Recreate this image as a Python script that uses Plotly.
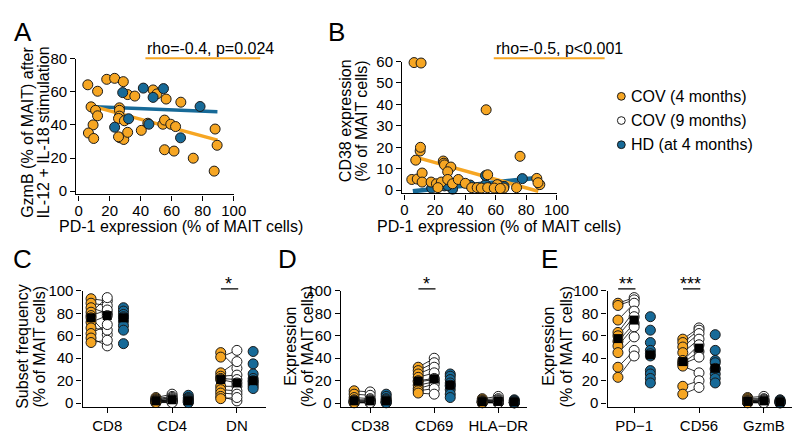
import plotly.graph_objects as go
import numpy as np

W, H = 800, 434
ORANGE = "#F6A623"
BLUE = "#176A98"
EDGE = "#1a1a1a"
FONT = "Liberation Sans, Arial, sans-serif"

# ---------------- Panel A: GzmB vs PD-1 ----------------
a_cov_x = [5.9, 12.2, 18.1, 23.2, 28.8, 31.6, 36.2, 48.0, 50.5, 56.4, 65.9, 8.0, 10.9, 12.2,
           9.3, 6.3, 9.7, 26.3, 26.3, 26.3, 25.7, 29.5, 26.7, 29.1, 31.6, 40.4, 44.6, 54.3,
           55.4, 59.4, 62.5, 55.4, 61.5, 73.9, 88.0, 89.3, 87.4, 25.7]
a_cov_y = [64.2, 60.3, 67.5, 68.1, 66.1, 58.3, 57.4, 61.1, 58.7, 55.6, 53.7, 50.9, 48.8, 45.5,
           40.0, 35.1, 31.8, 50.3, 48.8, 45.3, 43.9, 42.5, 32.2, 31.2, 35.5, 36.7, 41.0, 40.4,
           42.9, 40.4, 39.0, 25.0, 24.2, 19.9, 37.5, 27.7, 12.1, 32.8]
a_hd_x = [28.4, 41.7, 54.7, 48.0, 32.2, 23.2, 45.3, 65.7, 78.3]
a_hd_y = [59.5, 62.2, 61.9, 56.6, 43.7, 38.6, 40.4, 32.2, 51.1]
a_fit_x = [10.5, 89.5]
a_cov_fit = [50.9, 30.8]
a_hd_fit = [50.9, 48.0]
a_stat = "rho=-0.4, p=0.024"

# ---------------- Panel B: CD38 vs PD-1 ----------------
b_cov_x = [6.3, 10.9, 53.7, 10.3, 10.5, 7.4, 25.5, 25.9, 26.3, 30.5, 28.4, 76.0, 4.8, 8.4,
           11.6, 11.6, 17.5, 21.0, 24.2, 28.4, 31.6, 35.4, 40.0, 44.2, 47.8, 50.5, 54.7,
           54.7, 61.0, 65.3, 73.7, 87.0, 89.0, 87.8, 22.0, 59.0, 63.0]
b_cov_y = [59.5, 59.3, 37.5, 18.3, 20.0, 14.0, 13.6, 12.6, 11.8, 10.8, 8.6, 15.8, 5.0, 5.2,
           8.0, 3.8, 3.8, 3.0, 3.8, 5.0, 3.0, 5.0, 3.2, 1.2, 1.2, 1.0, 7.2, 1.2, 2.6, 1.0,
           1.2, 5.5, 2.6, 3.5, 1.2, 1.0, 0.8]
b_hd_x = [17.9, 26.3, 31.6, 43.2, 53.3, 53.3, 62.0, 65.5, 77.5, 28.4]
b_hd_y = [1.0, 2.0, 0.5, 2.4, 2.6, 6.8, 2.3, 1.8, 5.4, 2.2]
b_fit_x = [5.5, 88.0]
b_cov_fit = [15.8, -0.5]
b_hd_fit = [-0.5, 5.8]
b_stat = "rho=-0.5, p<0.001"

# ---------------- Panels C-E: paired strip plots ----------------
c_categories = ["CD8", "CD4", "DN"]
c_cov4 = [[93, 89, 85, 81, 78, 76, 72, 67, 62, 58, 54],
          [5, 4, 3, 3, 2, 2, 2, 1, 1, 1, 0.5],
          [45, 41, 27, 24, 22, 21, 15, 12, 9, 6, 4]]
c_cov9 = [[91, 87, 80, 94, 83, 61, 78, 65, 70, 51, 56],
          [8, 6, 5, 4, 3, 3, 2, 2, 1, 1, 0.5],
          [31, 47, 37, 25, 21, 18, 15, 11, 8, 2, 5]]
c_hd = [[85, 82, 79, 77, 76, 73, 69, 65, 53],
        [7, 5, 4, 3, 2, 2, 1, 1, 0.5],
        [46, 35, 26, 22, 20, 19, 17, 15, 13]]
c_sig = ["", "", "*"]
c_title = ["Subset frequency", "(% of MAIT cells)"]

d_categories = ["CD38", "CD69", "HLA\u2212DR"]
d_cov4 = [[11, 8, 5, 3, 2, 2, 1, 1, 0.5, 0.3],
          [32, 29, 26, 23, 20, 19, 16, 13, 11, 9],
          [4, 3, 2, 2, 1.5, 1, 1, 0.5, 0.5, 0.3]]
d_cov9 = [[10, 7, 4, 3, 2, 2, 1, 1, 0.5, 0.3],
          [40, 36, 32, 27, 22, 21, 19, 17, 13, 8],
          [6, 4, 3, 2, 2, 1, 1, 0.5, 0.5, 0.3]]
d_hd = [[8, 6, 4, 3, 2, 1, 1, 0.5, 0.3],
        [26, 24, 21, 18, 16, 15, 12, 8, 5],
        [3, 2, 2, 1, 1, 0.5, 0.5, 0.3, 0.2]]
d_sig = ["", "*", ""]
d_title = ["Expression", "(% of MAIT cells)"]

e_categories = ["PD\u22121", "CD56", "GzmB"]
e_cov4 = [[89, 87, 74, 63, 60, 55, 51, 45, 32, 23],
          [57, 54, 50, 45, 38, 36, 35, 33, 15, 8],
          [5, 4, 3, 2, 2, 1, 1, 1, 0.5, 0.3]]
e_cov9 = [[94, 92, 89, 82, 77, 71, 68, 59, 47, 42],
          [67, 65, 62, 57, 52, 46, 41, 27, 20, 14],
          [6, 4, 3, 3, 2, 2, 1, 1, 0.5, 0.3]]
e_hd = [[77, 65, 54, 47, 44, 42, 29, 26, 22, 18],
        [61, 47, 38, 36, 31, 30, 26, 22, 18],
        [3, 2, 2, 1, 1, 1, 0.5, 0.3, 0.2]]
e_sig = ["**", "***", ""]
e_title = ["Expression", "(% of MAIT cells)"]

legend_labels = ["COV (4 months)", "COV (9 months)", "HD (at 4 months)"]
legend_colors = [ORANGE, "white", BLUE]


def px(x):
    return x / W


def py(y):
    return 1 - y / H


fig = go.Figure()

marker_orange = dict(size=10, color=ORANGE, line=dict(color=EDGE, width=1))
marker_blue = dict(size=10, color=BLUE, line=dict(color=EDGE, width=1))
marker_white = dict(size=10, color="white", line=dict(color=EDGE, width=1))

# Panel A
fig.add_trace(go.Scatter(x=a_fit_x, y=a_hd_fit, mode="lines", line=dict(color=BLUE, width=3.5),
                         xaxis="x", yaxis="y", showlegend=False))
fig.add_trace(go.Scatter(x=a_fit_x, y=a_cov_fit, mode="lines", line=dict(color=ORANGE, width=3.5),
                         xaxis="x", yaxis="y", showlegend=False))
fig.add_trace(go.Scatter(x=a_cov_x, y=a_cov_y, mode="markers", marker=marker_orange,
                         xaxis="x", yaxis="y", showlegend=False, cliponaxis=False))
fig.add_trace(go.Scatter(x=a_hd_x, y=a_hd_y, mode="markers", marker=marker_blue,
                         xaxis="x", yaxis="y", showlegend=False, cliponaxis=False))

# Panel B
fig.add_trace(go.Scatter(x=b_fit_x, y=b_hd_fit, mode="lines", line=dict(color=BLUE, width=4.5),
                         xaxis="x2", yaxis="y2", showlegend=False))
fig.add_trace(go.Scatter(x=b_fit_x, y=b_cov_fit, mode="lines", line=dict(color=ORANGE, width=3.5),
                         xaxis="x2", yaxis="y2", showlegend=False))
fig.add_trace(go.Scatter(x=b_hd_x, y=b_hd_y, mode="markers", marker=marker_blue,
                         xaxis="x2", yaxis="y2", showlegend=False, cliponaxis=False))
fig.add_trace(go.Scatter(x=b_cov_x, y=b_cov_y, mode="markers", marker=marker_orange,
                         xaxis="x2", yaxis="y2", showlegend=False, cliponaxis=False))

OFF = 0.25


def add_strip(cov4, cov9, hd, xa, ya):
    lx, ly = [], []
    for i in range(len(cov4)):
        for a, b in zip(cov4[i], cov9[i]):
            lx += [i - OFF, i, None]
            ly += [a, b, None]
    fig.add_trace(go.Scatter(x=lx, y=ly, mode="lines", line=dict(color="black", width=0.8),
                             xaxis=xa, yaxis=ya, showlegend=False, cliponaxis=False))
    for grp, dx, mk in ((cov4, -OFF, marker_orange), (cov9, 0, marker_white), (hd, OFF, marker_blue)):
        xs, ys = [], []
        for i, vals in enumerate(grp):
            xs += [i + dx] * len(vals)
            ys += list(vals)
        fig.add_trace(go.Scatter(x=xs, y=ys, mode="markers", marker=mk,
                                 xaxis=xa, yaxis=ya, showlegend=False, cliponaxis=False))
    mx, my = [], []
    for grp, dx in ((cov4, -OFF), (cov9, 0), (hd, OFF)):
        for i, vals in enumerate(grp):
            mx.append(i + dx)
            my.append(float(np.median(vals)))
    fig.add_trace(go.Scatter(x=mx, y=my, mode="markers",
                             marker=dict(symbol="square", size=9, color="black"),
                             xaxis=xa, yaxis=ya, showlegend=False, cliponaxis=False))


add_strip(c_cov4, c_cov9, c_hd, "x3", "y3")
add_strip(d_cov4, d_cov9, d_hd, "x4", "y4")
add_strip(e_cov4, e_cov9, e_hd, "x5", "y5")

axis_common = dict(showline=True, linecolor="black", linewidth=1.3, ticks="outside", ticklen=5,
                   tickwidth=1.2, tickcolor="black", showgrid=False, zeroline=False,
                   tickfont=dict(family=FONT, size=15, color="black"))

layout = dict(
    width=W, height=H, margin=dict(l=0, r=0, t=0, b=0),
    paper_bgcolor="white", plot_bgcolor="white", showlegend=False,
    font=dict(family=FONT, color="black"),
    xaxis=dict(domain=[px(67.6), px(228)], range=[-1.5, 100], tickvals=[0, 20, 40, 60, 80, 100],
               anchor="y", ticklabelstandoff=-3, **axis_common),
    yaxis=dict(domain=[py(183.4), py(43)], range=[-2, 80], tickvals=[0, 20, 40, 60, 80],
               anchor="x", **axis_common),
    xaxis2=dict(domain=[px(399.7), px(557)], range=[-1.5, 100], tickvals=[0, 20, 40, 60, 80, 100],
                anchor="y2", ticklabelstandoff=-3, **axis_common),
    yaxis2=dict(domain=[py(182.3), py(46)], range=[-1.5, 60], tickvals=[0, 10, 20, 30, 40, 50, 60],
                anchor="x2", **axis_common),
)
strip_y = dict(domain=[py(402.5), py(283)], range=[-3, 100], tickvals=[0, 20, 40, 60, 80, 100],
               **axis_common)
for k, (x0, x1, r0), cats in zip((3, 4, 5), ((74, 261, -0.38), (337, 527, -0.46), (609, 798, -0.41)),
                                 (c_categories, d_categories, e_categories)):
    layout[f"xaxis{k}"] = dict(domain=[px(x0), px(x1)], range=[r0, 2.45], tickvals=[0, 1, 2],
                               ticktext=cats, anchor=f"y{k}", **axis_common)
    layout[f"yaxis{k}"] = dict(anchor=f"x{k}", **strip_y)
fig.update_layout(**layout)

ann = []
shapes = []


def text(x, y, s, size=16, angle=0, xanchor="center", yanchor="middle"):
    ann.append(dict(x=px(x), y=py(y), xref="paper", yref="paper", text=s, showarrow=False,
                    textangle=angle, xanchor=xanchor, yanchor=yanchor,
                    font=dict(family=FONT, size=size, color="black")))


# panel letters
for lbl, x, y in (("A", 2, 16), ("B", 322, 16), ("C", 1, 250), ("D", 271, 250), ("E", 539, 250)):
    text(x, y, lbl, size=26, xanchor="left")

# axis titles
text(17, 119, "GzmB (% of MAIT) after", angle=-90)
text(34, 119, "IL-12 + IL-18 stimulation", angle=-90)
text(174, 216, "PD-1 expression (% of MAIT cells)")
text(342, 107, "CD38 expression", angle=-90)
text(358, 107, "(% of MAIT cells)", angle=-90)
text(498, 216, "PD-1 expression (% of MAIT cells)")
for (x1, x2), t in (((12, 30), c_title), ((285, 303), d_title), ((548, 567), e_title)):
    text(x1, 340, t[0], angle=-90)
    text(x2, 340, t[1], angle=-90)

# correlation statistics with underline
for x0, x1, s in ((138, 255, a_stat), (493, 606, b_stat)):
    text(x0, 33, s, xanchor="left")
    shapes.append(dict(type="line", xref="paper", yref="paper", x0=px(x0), x1=px(x1),
                       y0=py(42.5), y1=py(42.5), line=dict(color=ORANGE, width=2)))

# significance bars: anchored at the top of the axis range (y=100) and shifted up a little,
# since annotations positioned outside the axis range are hidden by plotly
for k, sig in ((3, c_sig), (4, d_sig), (5, e_sig)):
    for i, s in enumerate(sig):
        if s:
            ann.append(dict(x=i + 0.02, y=100, xref=f"x{k}", yref=f"y{k}",
                            ax=i - OFF - 0.02, ay=100, axref=f"x{k}", ayref=f"y{k}",
                            text="", showarrow=True, arrowhead=0, arrowwidth=1.1,
                            arrowcolor="black", standoff=0, startstandoff=0, yshift=2))
            ann.append(dict(x=i - OFF / 2, y=100, xref=f"x{k}", yref=f"y{k}", text=s,
                            showarrow=False, xanchor="center", yanchor="bottom", yshift=-5,
                            font=dict(family=FONT, size=18, color="black")))

# legend
for j, (lab, col) in enumerate(zip(legend_labels, legend_colors)):
    yc = 82 + 25 * j
    shapes.append(dict(type="circle", xref="paper", yref="paper", x0=px(619), x1=px(627),
                       y0=py(yc + 4), y1=py(yc - 4), fillcolor=col,
                       line=dict(color=EDGE, width=1)))
    text(631, yc, lab, xanchor="left")

fig.update_layout(annotations=ann, shapes=shapes)
fig.write_html("out.html")
